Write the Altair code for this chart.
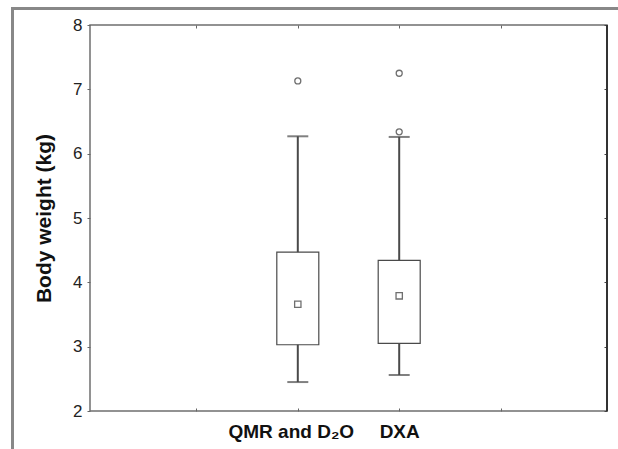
import altair as alt
import pandas as pd

# ---- data ----
groups = ["QMR and D₂O", "DXA"]
positions = [2, 3]
whisker_low = [2.45, 2.56]
q1 = [3.03, 3.05]
center = [3.66, 3.79]
q3 = [4.47, 4.34]
whisker_high = [6.27, 6.26]
outlier_groups = ["QMR and D₂O", "DXA", "DXA"]
outlier_values = [7.13, 7.25, 6.34]
y_ticks = [2, 3, 4, 5, 6, 7, 8]
x_ticks = [1, 2, 3, 4]
x_domain = [0, 5]
y_domain = [2, 8]

box_df = pd.DataFrame({
    "group": groups, "pos": positions, "wlo": whisker_low, "q1": q1,
    "center": center, "q3": q3, "whi": whisker_high,
})
out_df = pd.DataFrame({
    "group": outlier_groups,
    "value": outlier_values,
    "pos": [positions[groups.index(g)] for g in outlier_groups],
})
one = pd.DataFrame({"k": [0]})

label_expr = " : ".join(f"datum.value == {p} ? '{g}'" for p, g in zip(positions, groups)) + " : ''"

FONT = "Liberation Sans"
xs = alt.Scale(domain=x_domain, nice=False, zero=False)
ys = alt.Scale(domain=y_domain, nice=False, zero=False)
LINE = "#4a4a4a"

x_bottom = alt.X("pos:Q", scale=xs, axis=alt.Axis(
    orient="bottom", values=x_ticks, labelExpr=label_expr, offset=-3, tickSize=3,
    domain=False, grid=False, labelFontSize=19, labelFontWeight="bold",
    labelPadding=11, labelColor="#111111", tickColor="#666666", title=None,
    labelOverlap=False, labelFont=FONT,
    labelOffset={"condition": {"test": f"datum.value == {positions[0]}", "value": -7}, "value": 0}))
y_left = alt.Y("q1:Q", scale=ys, axis=alt.Axis(
    orient="left", values=y_ticks, tickSize=3, domain=False, grid=False,
    labelFontSize=17, labelPadding=5, labelColor="#222222", tickColor="#666666",
    format="d", title="Body weight (kg)", titleFontSize=21, titleFontWeight="bold",
    titleColor="#111111", titlePadding=18, labelFont=FONT, titleFont=FONT))

x_none = alt.X("pos:Q", scale=xs, axis=None)

box = alt.Chart(box_df).mark_bar(width=42, fill="white", stroke=LINE, strokeWidth=1.2).encode(
    x=x_bottom, y=y_left, y2="q3:Q")

whisk_lo = alt.Chart(box_df).mark_rule(color=LINE, strokeWidth=2).encode(
    x=x_none, y=alt.Y("wlo:Q", scale=ys, axis=None), y2="q1:Q")
whisk_hi = alt.Chart(box_df).mark_rule(color=LINE, strokeWidth=2).encode(
    x=x_none, y=alt.Y("q3:Q", scale=ys, axis=None), y2="whi:Q")
cap_lo = alt.Chart(box_df).mark_tick(orient="horizontal", size=21, thickness=2, color=LINE).encode(
    x=x_none, y=alt.Y("wlo:Q", scale=ys, axis=None))
cap_hi = alt.Chart(box_df).mark_tick(orient="horizontal", size=21, thickness=2, color=LINE).encode(
    x=x_none, y=alt.Y("whi:Q", scale=ys, axis=None))

mid = alt.Chart(box_df).mark_point(shape="square", size=40, filled=False, color="#333333", strokeWidth=1.3).encode(
    x=alt.X("pos:Q", scale=xs, axis=alt.Axis(
        orient="top", values=x_ticks, offset=-3, tickSize=3, labels=False, domain=False,
        grid=False, tickColor="#666666", title=None)),
    y=alt.Y("center:Q", scale=ys, axis=alt.Axis(
        orient="right", values=y_ticks, offset=-3, tickSize=3, labels=False, domain=False,
        grid=False, tickColor="#444444", title=None)))

outl = alt.Chart(out_df).mark_point(shape="circle", size=36, filled=False, color="#333333", strokeWidth=1.3).encode(
    x=x_none, y=alt.Y("value:Q", scale=ys, axis=None))

# decorative frame lines
right_border = alt.Chart(one).mark_rule(color="#333333", strokeWidth=2).encode(
    x=alt.value(517), y=alt.value(0), y2=alt.value(386))
frame_top = alt.Chart(one).mark_rule(color="#888888", strokeWidth=3).encode(
    x=alt.value(-78), x2=alt.value(528), y=alt.value(-16.5))
frame_left = alt.Chart(one).mark_rule(color="#888888", strokeWidth=3).encode(
    x=alt.value(-77.5), y=alt.value(-18), y2=alt.value(424))

chart = alt.layer(
    box, whisk_lo, whisk_hi, cap_lo, cap_hi, mid, outl, right_border, frame_top, frame_left
).resolve_axis(x="independent", y="independent").properties(
    width=517, height=386,
    padding={"left": 90, "top": 25, "right": 11, "bottom": 38},
    autosize=alt.AutoSizeParams(type="none"),
    background="white",
).configure_view(stroke="#6f6f6f", strokeWidth=1.5)

chart.save("out.html", embed_options={"renderer": "svg", "actions": False})
